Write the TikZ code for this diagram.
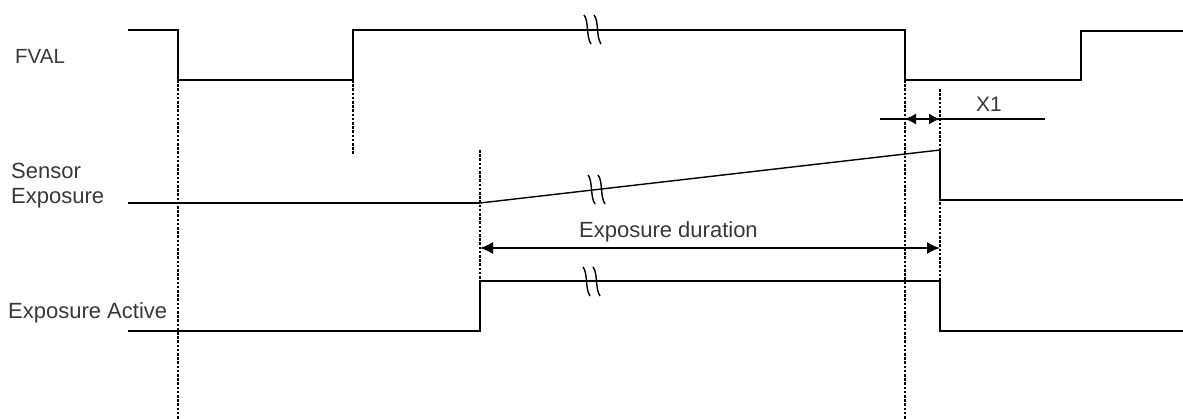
\documentclass[tikz,border=0pt]{standalone}
\usepackage{fontspec}
\setmainfont{Liberation Sans}
\usetikzlibrary{arrows.meta}
\definecolor{txt}{HTML}{383838}
\tikzset{
  sig/.style={line width=1.9pt, line join=miter},
  ramp/.style={line width=1.4pt},
  guide/.style={line width=1.2pt, dash pattern=on 2.6pt off 1.6pt},
  dim/.style={line width=1.4pt},
  lbl/.style={font=\fontsize{22}{26}\selectfont, text=txt, inner sep=0pt, anchor=base west},
  brk/.pic={
    \draw[line width=1.4pt] (-10,-14) .. controls (-5,-8) and (-8,8) .. (-3,15);
    \draw[line width=1.4pt] (0,-14) .. controls (5,-8) and (2,8) .. (7,15);
  }
}
\begin{document}
\begin{tikzpicture}[x=1pt,y=-1pt]
\useasboundingbox (0,0) rectangle (1183,419);

% guide lines
\draw[guide] (178,80) -- (178,419);
\draw[guide] (353,80) -- (353,154);
\draw[guide] (480,150) -- (480,282);
\draw[guide] (905,80) -- (905,419);
\draw[guide] (940,89) -- (940,281);

% FVAL
\draw[sig] (128,30) -- (178,30) -- (178,80) -- (353,80) -- (353,30) -- (905,30) -- (905,80) -- (1081,80) -- (1081,31) -- (1183,31);
\pic at (594,29) {brk};

% Sensor Exposure
\draw[sig] (128,203) -- (480,203);
\draw[ramp] (480,203) -- (940,150);
\draw[sig] (940,150) -- (940,200) -- (1183,200);
\pic at (598,189) {brk};

% Exposure Active
\draw[sig] (128,331) -- (480,331) -- (480,281) -- (940,281) -- (940,331) -- (1183,331);
\pic at (593,281) {brk};

% Exposure duration arrow
\coordinate (ea) at (480,248);
\coordinate (eb) at (940,248);
\draw[dim, {Latex[length=13pt,width=12pt]}-{Latex[length=13pt,width=12pt]}] (ea) -- (eb);
\node[lbl] (ed) at (579,238) {Exposure duration};

% X1
\coordinate (xl) at (880,119);
\coordinate (xa) at (905,119);
\coordinate (xb) at (940,119);
\coordinate (xr) at (1045,119);
\draw[dim] (xl) -- (xr);
\draw[dim, {Latex[length=11pt,width=11pt]}-{Latex[length=11pt,width=11pt]}] (xa) -- (xb);
\node[lbl, font=\fontsize{21}{25}\selectfont] (x1) at (976,112) {X1};

% signal labels
\node[lbl, font=\fontsize{20.5}{24}\selectfont] (fval) at (15,64) {FVAL};
\node[lbl] (sen1) at (11,179) {Sensor};
\node[lbl] (sen2) at (11,204) {Exposure};
\node[lbl] (act) at (8,319) {Exposure Active};
\end{tikzpicture}
\end{document}
